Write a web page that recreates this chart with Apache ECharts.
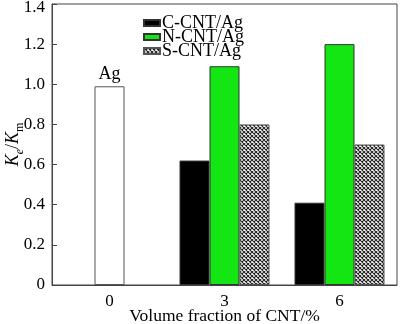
<!DOCTYPE html>
<html>
<head>
<meta charset="utf-8">
<script src="https://cdn.jsdelivr.net/npm/echarts@6/dist/echarts.min.js"></script>
<style>
  html, body { margin: 0; padding: 0; background: #fff; }
  #chart { width: 400px; height: 324px; }
</style>
</head>
<body>
<div id="chart"></div>
<script>
// Thermal conductivity ratio Ke/Km versus CNT volume fraction
const categories = ['0', '3', '6'];
const agValue = 0.99;                 // pure Ag reference, at 0 %
const cCntAg = [null, 0.62, 0.41];
const nCntAg = [null, 1.09, 1.20];
const sCntAg = [null, 0.80, 0.70];
const yTicks = ['0', '0.2', '0.4', '0.6', '0.8', '1.0', '1.2', '1.4'];

const FONT = '"Liberation Serif", "Times New Roman", serif';

// cross-hatch fill used for the S-CNT/Ag bars
function hatchPattern() {
  const c = document.createElement('canvas');
  c.width = 4; c.height = 4;
  const g = c.getContext('2d');
  g.fillStyle = '#fff';
  g.fillRect(0, 0, 4, 4);
  g.strokeStyle = '#222';
  g.lineWidth = 1.1;
  g.beginPath();
  g.moveTo(0, 0); g.lineTo(4, 4);
  g.moveTo(0, 4); g.lineTo(4, 0);
  g.stroke();
  return { image: c, repeat: 'repeat' };
}
const hatch = hatchPattern();

// the middle slot at 0 % holds the plain Ag bar
const nData = nCntAg.map((v, i) => i === 0 ? {
  value: agValue,
  itemStyle: { color: '#fff', borderColor: '#555', borderWidth: 1 },
  label: { show: true, position: 'top', distance: 3, formatter: 'Ag',
           fontFamily: FONT, fontSize: 18, color: '#000' }
} : v);

const chart = echarts.init(document.getElementById('chart'), null, { renderer: 'canvas' });
chart.setOption({
  animation: false,
  backgroundColor: '#fff',
  grid: { left: 52, right: 3, top: 4, bottom: 39, show: true,
          containLabel: false, outerBoundsMode: 'none',
          borderColor: '#444', borderWidth: 1, backgroundColor: 'transparent' },
  legend: {
    orient: 'vertical', left: 138, top: 9,
    itemWidth: 16, itemHeight: 6, itemGap: -4,
    textStyle: { fontFamily: FONT, fontSize: 18, color: '#000', padding: [0, 0, 0, -3] },
    data: [
      { name: 'C-CNT/Ag', icon: 'rect' },
      { name: 'N-CNT/Ag', icon: 'rect' },
      { name: 'S-CNT/Ag', icon: 'rect' }
    ]
  },
  xAxis: {
    type: 'category',
    data: categories,
    name: 'Volume fraction of CNT/%',
    nameLocation: 'middle',
    nameGap: 22,
    nameMoveOverlap: false,
    nameTextStyle: { fontFamily: FONT, fontSize: 17.5, color: '#000' },
    axisLine: { lineStyle: { color: '#444', width: 1 } },
    axisTick: { show: false },
    axisLabel: { fontFamily: FONT, fontSize: 17, color: '#000', margin: 8 },
    splitLine: { show: false }
  },
  yAxis: {
    type: 'value',
    min: 0, max: 1.4, interval: 0.2,
    name: '{k|K}{s|e}{n|/}{k|K}{m|m}',
    nameLocation: 'middle',
    nameGap: 30,
    nameMoveOverlap: false,
    nameTextStyle: {
      color: '#000',
      rich: {
        k: { fontFamily: FONT, fontSize: 18, fontStyle: 'italic', color: '#000', lineHeight: 22, verticalAlign: 'bottom' },
        n: { fontFamily: FONT, fontSize: 18, color: '#000', lineHeight: 22, verticalAlign: 'bottom' },
        s: { fontFamily: FONT, fontSize: 12, fontStyle: 'italic', color: '#000', lineHeight: 22, verticalAlign: 'bottom', padding: [0, 0, -4, 0] },
        m: { fontFamily: FONT, fontSize: 12, color: '#000', lineHeight: 22, verticalAlign: 'bottom', padding: [0, 0, -4, 0] }
      }
    },
    axisLine: { show: true, lineStyle: { color: '#444', width: 1 } },
    axisTick: { show: true, inside: true, length: 5, lineStyle: { color: '#444' } },
    axisLabel: {
      fontFamily: FONT, fontSize: 17, color: '#000', margin: 7,
      // the top label sits a little lower so it stays inside the canvas
      formatter: (v) => {
        const i = Math.round(v / 0.2);
        return i === yTicks.length - 1 ? '{t|' + yTicks[i] + '}' : yTicks[i];
      },
      rich: { t: { fontFamily: FONT, fontSize: 17, color: '#000', padding: [8, 0, 0, 0] } }
    },
    splitLine: { show: false }
  },
  series: [
    { name: 'C-CNT/Ag', type: 'bar', data: cCntAg, barWidth: 30, barGap: '0%',
      itemStyle: { color: '#000', borderColor: '#333', borderWidth: 1 } },
    { name: 'N-CNT/Ag', type: 'bar', data: nData, barWidth: 30, barGap: '0%',
      itemStyle: { color: '#13e613', borderColor: '#333', borderWidth: 1 } },
    { name: 'S-CNT/Ag', type: 'bar', data: sCntAg, barWidth: 30, barGap: '0%',
      itemStyle: { color: hatch, borderColor: '#555', borderWidth: 1 } }
  ]
});
</script>
</body>
</html>
